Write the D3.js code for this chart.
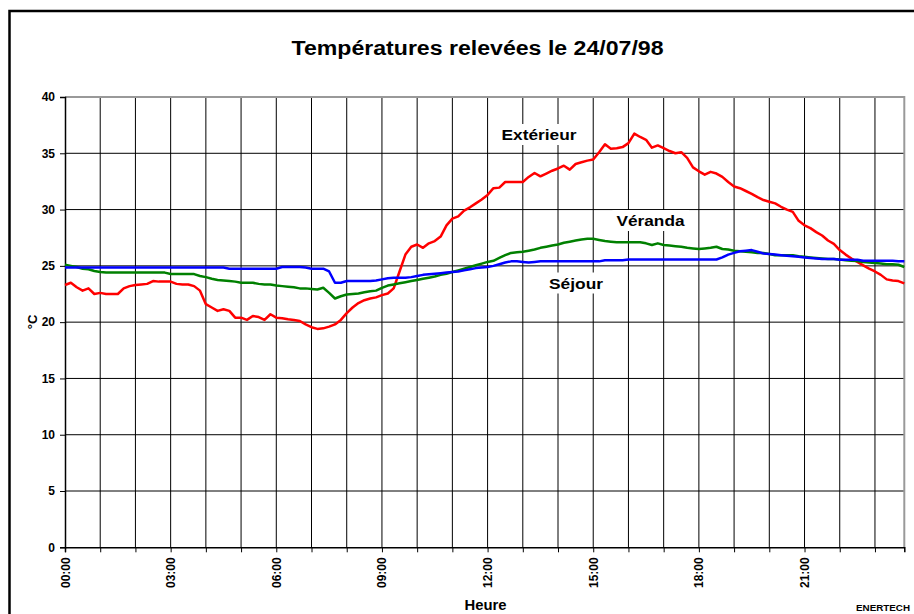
<!DOCTYPE html>
<meta charset="utf-8">
<title>Températures relevées le 24/07/98</title>
<script src="https://d3js.org/d3.v7.min.js"></script>
<style>
    body { margin: 0; background: #fff; }
    svg text { font-family: Arial, "Liberation Sans", sans-serif; font-weight: bold; fill: #000; }
</style>
<body>
<script>
    // Temperatures every 10 minutes, 00:00 -> 23:50 (144 readings)
    const exterieur = [
        23.3, 23.5, 23.1, 22.8, 23.0, 22.5, 22.6, 22.5, 22.5, 22.5, 23.0, 23.2,
        23.3, 23.35, 23.4, 23.65, 23.6, 23.6, 23.6, 23.4, 23.35, 23.35, 23.2, 22.8,
        21.6, 21.3, 21.0, 21.15, 21.0, 20.4, 20.4, 20.2, 20.55, 20.45, 20.2, 20.7,
        20.4, 20.35, 20.25, 20.2, 20.1, 19.8, 19.55, 19.4, 19.45, 19.6, 19.8, 20.2,
        20.8, 21.3, 21.7, 21.95, 22.1, 22.2, 22.4, 22.55, 23.0, 24.5, 26.0, 26.7,
        26.9, 26.6, 27.0, 27.2, 27.6, 28.6, 29.2, 29.4, 29.9, 30.2, 30.55, 30.9,
        31.3, 31.9, 31.95, 32.45, 32.45, 32.45, 32.45, 32.9, 33.25, 32.95, 33.2, 33.45,
        33.65, 33.9, 33.55, 34.05, 34.2, 34.35, 34.45, 35.1, 35.8, 35.4, 35.45, 35.55,
        35.9, 36.75, 36.45, 36.2, 35.5, 35.7, 35.45, 35.2, 35.0, 35.1, 34.6, 33.75,
        33.4, 33.1, 33.35, 33.2, 32.9, 32.45, 32.05, 31.9, 31.65, 31.4, 31.1, 30.85,
        30.7, 30.55, 30.25, 30.0, 29.8, 29.0, 28.6, 28.35, 28.0, 27.7, 27.25, 26.95,
        26.4, 26.0, 25.65, 25.35, 25.05, 24.75, 24.5, 24.2, 23.8, 23.7, 23.65, 23.45
    ];

    const veranda = [
        25.1, 25.0, 24.9, 24.75, 24.7, 24.55, 24.45, 24.4, 24.4, 24.4, 24.4, 24.4,
        24.4, 24.4, 24.4, 24.4, 24.4, 24.4, 24.27, 24.27, 24.27, 24.27, 24.27, 24.1,
        24.0, 23.85, 23.75, 23.7, 23.65, 23.6, 23.5, 23.5, 23.5, 23.4, 23.35, 23.35,
        23.25, 23.2, 23.15, 23.1, 23.0, 23.0, 22.95, 22.9, 23.05, 22.6, 22.1, 22.3,
        22.45, 22.5, 22.55, 22.65, 22.75, 22.8, 23.05, 23.25, 23.35, 23.45, 23.55, 23.65,
        23.75, 23.85, 23.95, 24.05, 24.2, 24.3, 24.45, 24.6, 24.75, 24.9, 25.05, 25.2,
        25.35, 25.45, 25.7, 25.95, 26.15, 26.2, 26.25, 26.35, 26.45, 26.6, 26.7, 26.8,
        26.9, 27.05, 27.15, 27.25, 27.35, 27.4, 27.4, 27.3, 27.2, 27.15, 27.1, 27.1,
        27.1, 27.1, 27.1, 27.0, 26.85, 27.0, 26.85, 26.8, 26.75, 26.7, 26.6, 26.55,
        26.5, 26.55, 26.6, 26.7, 26.5, 26.45, 26.35, 26.3, 26.25, 26.2, 26.15, 26.15,
        26.05, 25.95, 25.95, 25.95, 25.95, 25.85, 25.8, 25.75, 25.7, 25.65, 25.6, 25.6,
        25.57, 25.5, 25.45, 25.43, 25.35, 25.3, 25.25, 25.2, 25.15, 25.15, 25.1, 24.9
    ];

    const sejour = [
        24.85, 24.85, 24.85, 24.85, 24.85, 24.85, 24.85, 24.85, 24.85, 24.85, 24.85, 24.85,
        24.85, 24.85, 24.85, 24.85, 24.85, 24.85, 24.85, 24.85, 24.85, 24.85, 24.85, 24.85,
        24.85, 24.85, 24.85, 24.85, 24.75, 24.75, 24.75, 24.75, 24.75, 24.75, 24.75, 24.75,
        24.75, 24.9, 24.9, 24.9, 24.9, 24.85, 24.75, 24.75, 24.75, 24.5, 23.5, 23.5,
        23.65, 23.65, 23.65, 23.65, 23.65, 23.7, 23.8, 23.9, 23.95, 23.95, 23.95, 24.0,
        24.1, 24.2, 24.25, 24.3, 24.35, 24.4, 24.45, 24.5, 24.6, 24.7, 24.8, 24.85,
        24.9, 25.0, 25.15, 25.3, 25.4, 25.4, 25.35, 25.3, 25.35, 25.4, 25.4, 25.4,
        25.4, 25.4, 25.4, 25.4, 25.4, 25.4, 25.4, 25.4, 25.5, 25.5, 25.5, 25.5,
        25.57, 25.57, 25.57, 25.57, 25.57, 25.57, 25.57, 25.57, 25.57, 25.57, 25.57, 25.57,
        25.57, 25.57, 25.57, 25.57, 25.75, 26.0, 26.15, 26.3, 26.35, 26.4, 26.25, 26.1,
        26.05, 26.0, 25.95, 25.9, 25.85, 25.8, 25.75, 25.7, 25.65, 25.6, 25.6, 25.6,
        25.55, 25.55, 25.55, 25.55, 25.45, 25.45, 25.45, 25.45, 25.45, 25.45, 25.4, 25.4
    ];

    const hourLabels = ["00:00", "03:00", "06:00", "09:00", "12:00", "15:00", "18:00", "21:00"];
    const yTicks = [0, 5, 10, 15, 20, 25, 30, 35, 40];

    const series = [
        { name: "Extérieur", values: exterieur, color: "#ff0000", lx: 539, ly: 140, w: 75 },
        { name: "Véranda",   values: veranda,   color: "#008000", lx: 650.5, ly: 226, w: 68 },
        { name: "Séjour",    values: sejour,    color: "#0000ff", lx: 576, ly: 288.5, w: 54 }
    ];

    // SVG constraints
    const width  = 914;
    const height = 614;
    const plot = { left: 65, right: 904.3, top: 97, bottom: 547.3 };

    const xScale = d3.scaleLinear()
                    .domain([0, exterieur.length - 1])
                    .range([plot.left, plot.right]);
    const yScale = d3.scaleLinear()
                    .domain([0, 40])
                    .range([plot.bottom, plot.top]);

    const svg = d3.select("body")
                .append("svg")
                .attr("width", width)
                .attr("height", height);

    // outer frame (only left and top visible)
    svg.append("path")
        .attr("d", "M9.5," + (height + 5) + "V11H" + (width + 5))
        .attr("fill", "none")
        .attr("stroke", "#000")
        .attr("stroke-width", 2.5);

    svg.append("text")
        .attr("x", 477.5)
        .attr("y", 55)
        .attr("text-anchor", "middle")
        .attr("textLength", 372)
        .attr("lengthAdjust", "spacingAndGlyphs")
        .style("font-size", "20px")
        .text("Températures relevées le 24/07/98");

    // grid
    const hourIdx = d3.range(0, exterieur.length, 6);
    svg.append("g")
        .attr("id", "grid")
        .selectAll("line.v")
        .data(hourIdx.slice(1))
        .enter()
        .append("line")
        .attr("x1", d => xScale(d)).attr("x2", d => xScale(d))
        .attr("y1", plot.top).attr("y2", plot.bottom)
        .attr("stroke", "#000").attr("stroke-width", 1);

    svg.select("#grid")
        .selectAll("line.h")
        .data(yTicks.slice(1, -1))
        .enter()
        .append("line")
        .attr("x1", plot.left).attr("x2", plot.right)
        .attr("y1", d => yScale(d)).attr("y2", d => yScale(d))
        .attr("stroke", "#000").attr("stroke-width", 1);

    // plot area border (grey top / right)
    svg.append("path")
        .attr("d", "M" + plot.left + "," + plot.top + "H" + plot.right + "V" + plot.bottom)
        .attr("fill", "none")
        .attr("stroke", "#999")
        .attr("stroke-width", 2);

    // Y axis
    const yAxis = d3.axisLeft(yScale).tickValues(yTicks).tickSize(5).tickPadding(5);
    const gy = svg.append("g")
        .attr("id", "yAxis")
        .attr("transform", "translate(" + plot.left + ",0)")
        .call(yAxis);
    gy.select(".domain").attr("stroke", "#000").attr("stroke-width", 1.5);
    gy.selectAll("text").style("font-size", "12px").style("font-family", null);

    // X axis
    const xAxis = d3.axisBottom(xScale).tickValues(hourIdx).tickSize(5).tickFormat("");
    const gx = svg.append("g")
        .attr("id", "xAxis")
        .attr("transform", "translate(0," + plot.bottom + ")")
        .call(xAxis);
    gx.select(".domain").attr("stroke", "#000").attr("stroke-width", 1.5);

    svg.append("g")
        .selectAll("text")
        .data(hourLabels)
        .enter()
        .append("text")
        .attr("transform", (d, i) => "translate(" + (xScale(i * 18) + 4.5) + "," + (plot.bottom + 10) + ") rotate(-90)")
        .attr("text-anchor", "end")
        .style("font-size", "12px")
        .text(d => d);

    // axis titles
    svg.append("text")
        .attr("transform", "translate(37," + 322 + ") rotate(-90)")
        .attr("text-anchor", "middle")
        .style("font-size", "13px")
        .text("°C");

    svg.append("text")
        .attr("x", 485.5).attr("y", 610)
        .attr("text-anchor", "middle")
        .attr("textLength", 42)
        .attr("lengthAdjust", "spacingAndGlyphs")
        .style("font-size", "14px")
        .text("Heure");

    svg.append("text")
        .attr("x", 856).attr("y", 610.5)
        .attr("textLength", 54)
        .attr("lengthAdjust", "spacingAndGlyphs")
        .style("font-size", "9.5px")
        .text("ENERTECH");

    // lines
    const line = d3.line()
        .x((d, i) => xScale(i))
        .y(d => yScale(d));

    svg.append("g")
        .attr("id", "lines")
        .selectAll("path")
        .data(series)
        .enter()
        .append("path")
        .attr("d", d => line(d.values))
        .attr("fill", "none")
        .attr("stroke", d => d.color)
        .attr("stroke-width", 2.5)
        .attr("stroke-linejoin", "round");

    // series labels with white boxes
    const labels = svg.append("g").attr("id", "labels")
        .selectAll("g")
        .data(series)
        .enter()
        .append("g");
    labels.append("text")
        .attr("x", d => d.lx).attr("y", d => d.ly)
        .attr("text-anchor", "middle")
        .attr("textLength", d => d.w)
        .attr("lengthAdjust", "spacingAndGlyphs")
        .style("font-size", "15px")
        .text(d => d.name);
    labels.each(function () {
        const t = d3.select(this).select("text");
        const b = t.node().getBBox();
        d3.select(this).insert("rect", "text")
            .attr("x", b.x - 4).attr("y", b.y - 2)
            .attr("width", b.width + 8).attr("height", b.height + 4)
            .attr("fill", "#fff");
    });
</script>
</body>
